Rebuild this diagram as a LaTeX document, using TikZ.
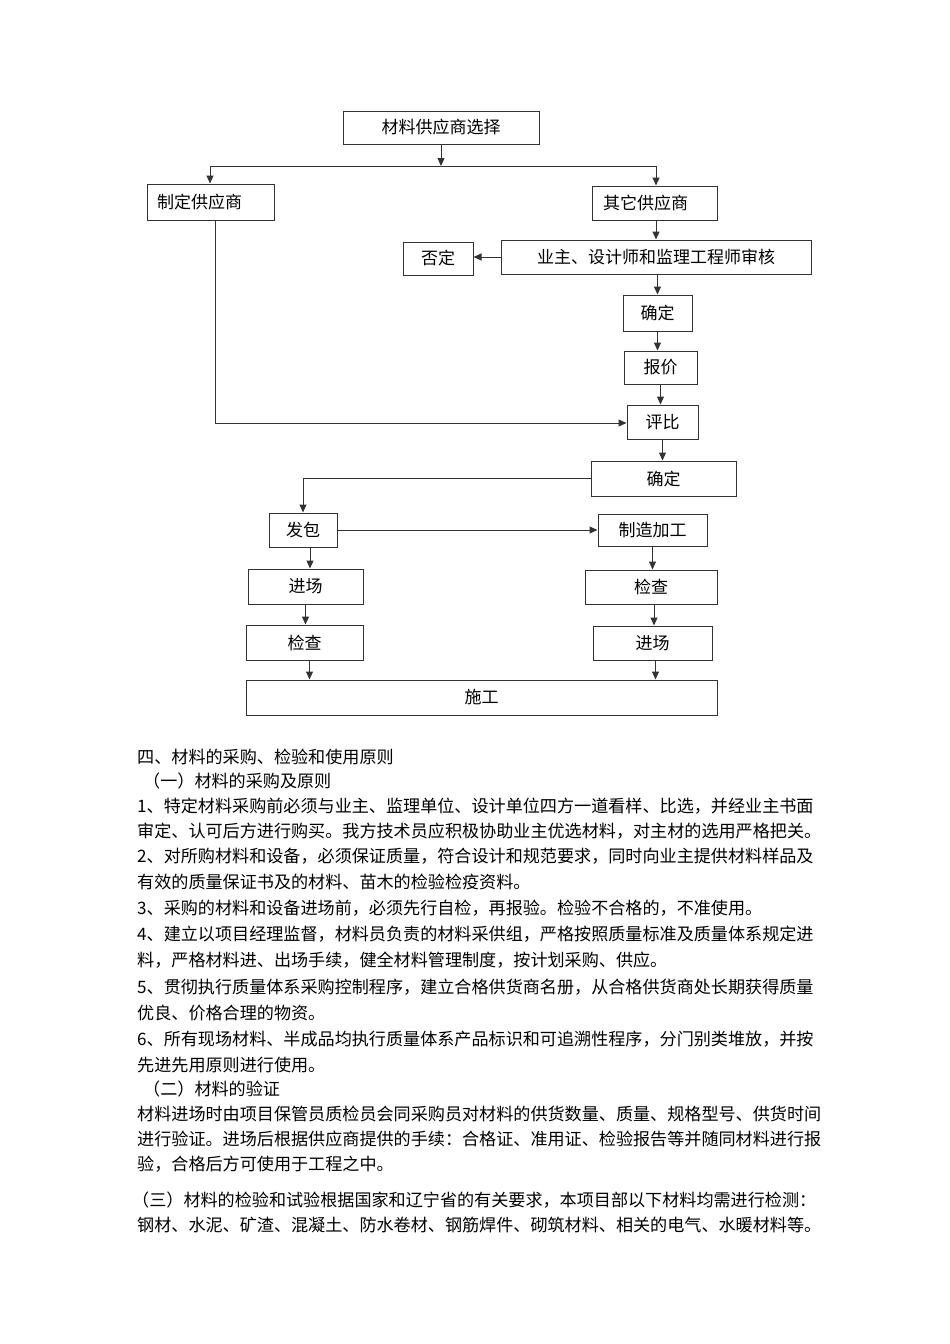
\documentclass[tikz,border=0pt]{standalone}
\usepackage{fontspec}
\setmainfont{Noto Sans CJK SC}
\usetikzlibrary{arrows.meta}

\begin{document}
\begin{tikzpicture}[x=1pt,y=-1pt,
  box/.style={draw=black!80,line width=1pt,inner sep=0pt,font=\fontsize{17}{20}\selectfont},
  lbox/.style={box,align=left,inner xsep=10pt},
  para/.style={anchor=west,inner sep=0pt,font=\fontsize{17.1}{20}\selectfont},
  wire/.style={draw=black!80,line width=1pt},
  flow/.style={wire,-{Triangle[length=8pt,width=7pt]}}]
        \useasboundingbox (0,0) rectangle (950,1344);
        \path
          (441,127.5)   node[box,minimum width=196pt,minimum height=33pt] (sel)   {材料供应商选择}
          (210.5,202)   node[lbox,text width=107pt,minimum height=36pt]   (fix)   {制定供应商}
          (654.5,203)   node[lbox,text width=103pt,inner xsep=11pt,minimum height=34pt] (other) {其它供应商}
          (656,257)     node[box,minimum width=310pt,minimum height=34pt] (rev)   {业主、设计师和监理工程师审核}
          (438,258.5)   node[box,minimum width=70pt,minimum height=33pt]  (neg)   {否定}
          (657.5,313)   node[box,minimum width=69pt,minimum height=36pt]  (ok1)   {确定}
          (660.5,367.5) node[box,minimum width=73pt,minimum height=33pt]  (quote) {报价}
          (662.5,422)   node[box,minimum width=71pt,minimum height=34pt]  (cmp)   {评比}
          (663.5,478.5) node[box,minimum width=145pt,minimum height=35pt] (ok2)   {确定}
          (303,530)     node[box,minimum width=68pt,minimum height=34pt]  (sub)   {发包}
          (652.5,530)   node[box,minimum width=109pt,minimum height=32pt] (make)  {制造加工}
          (305.5,586.5) node[box,minimum width=115pt,minimum height=35pt] (inL)   {进场}
          (651,587)     node[box,minimum width=132pt,minimum height=34pt] (chkR)  {检查}
          (304.5,642.5) node[box,minimum width=117pt,minimum height=35pt] (chkL)  {检查}
          (652.5,643)   node[box,minimum width=119pt,minimum height=34pt] (inR)   {进场}
          (481.5,697.5) node[box,minimum width=471pt,minimum height=35pt] (build) {施工};
        \coordinate (splitL) at (210,166);
        \coordinate (splitR) at (656,166);
        \coordinate (fixbend) at (215,423);
        \draw[flow] (sel.south) -- (sel.south |- splitL);
        \draw[wire] (splitL) -- (splitR);
        \draw[flow] (splitL) -- (splitL |- fix.north);
        \draw[flow] (splitR) -- (splitR |- other.north);
        \draw[flow] (rev.north |- other.south) -- (rev.north);
        \draw[flow] (rev.west) -- (rev.west -| neg.east);
        \draw[flow] (ok1.north |- rev.south) -- (ok1.north);
        \draw[flow] (ok1.south) -- (ok1.south |- quote.north);
        \draw[flow] (quote.south) -- (quote.south |- cmp.north);
        \draw[flow] (cmp.south) -- (cmp.south |- ok2.north);
        \draw[flow] (fixbend |- fix.south) -- (fixbend) -- (fixbend -| cmp.west);
        \draw[flow] (ok2.west) -- (ok2.west -| sub.north) -- (sub.north);
        \draw[flow] (sub.east) -- (sub.east -| make.west);
        \draw[flow] ([xshift=7pt]sub.south) -- ([xshift=7pt]sub.south |- inL.north);
        \draw[flow] (inL.south) -- (inL.south |- chkL.north);
        \draw[flow] ([xshift=5pt]chkL.south) -- ([xshift=5pt]chkL.south |- build.north);
        \draw[flow] (make.south) -- (make.south |- chkR.north);
        \draw[flow] ([xshift=3pt]chkR.south) -- ([xshift=3pt]chkR.south |- inR.north);
        \draw[flow] ([xshift=3pt]inR.south) -- ([xshift=3pt]inR.south |- build.north);
        % text below the chart
        \node[para] (t1)  at (137,757)  {四、材料的采购、检验和使用原则};
        \node[para] (t2)  at (143,781)  {（一）材料的采购及原则};
        \node[para] (t3)  at (137,806)  {1、特定材料采购前必须与业主、监理单位、设计单位四方一道看样、比选，并经业主书面};
        \node[para] (t4)  at (137,831)  {审定、认可后方进行购买。我方技术员应积极协助业主优选材料，对主材的选用严格把关。};
        \node[para] (t5)  at (137,856)  {2、对所购材料和设备，必须保证质量，符合设计和规范要求，同时向业主提供材料样品及};
        \node[para] (t6)  at (137,882)  {有效的质量保证书及的材料、苗木的检验检疫资料。};
        \node[para] (t7)  at (137,908)  {3、采购的材料和设备进场前，必须先行自检，再报验。检验不合格的，不准使用。};
        \node[para] (t8)  at (137,934)  {4、建立以项目经理监督，材料员负责的材料采供组，严格按照质量标准及质量体系规定进};
        \node[para] (t9)  at (137,960)  {料，严格材料进、出场手续，健全材料管理制度，按计划采购、供应。};
        \node[para] (t10) at (137,987)  {5、贯彻执行质量体系采购控制程序，建立合格供货商名册，从合格供货商处长期获得质量};
        \node[para] (t11) at (137,1013) {优良、价格合理的物资。};
        \node[para] (t12) at (137,1039) {6、所有现场材料、半成品均执行质量体系产品标识和可追溯性程序，分门别类堆放，并按};
        \node[para] (t13) at (137,1065) {先进先用原则进行使用。};
        \node[para] (t14) at (143,1089) {（二）材料的验证};
        \node[para] (t15) at (137,1114) {材料进场时由项目保管员质检员会同采购员对材料的供货数量、质量、规格型号、供货时间};
        \node[para] (t16) at (137,1139) {进行验证。进场后根据供应商提供的手续：合格证、准用证、检验报告等并随同材料进行报};
        \node[para] (t17) at (137,1164) {验，合格后方可使用于工程之中。};
        \node[para] (t18) at (132,1200) {（三）材料的检验和试验根据国家和辽宁省的有关要求，本项目部以下材料均需进行检测：};
        \node[para] (t19) at (137,1225) {钢材、水泥、矿渣、混凝土、防水卷材、钢筋焊件、砌筑材料、相关的电气、水暖材料等。};
      \end{tikzpicture}
\end{document}
